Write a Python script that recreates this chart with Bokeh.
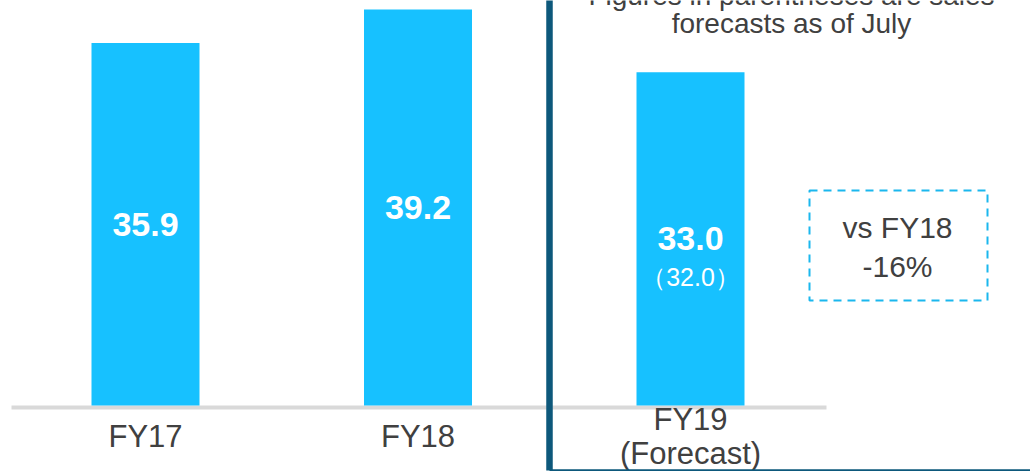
from bokeh.plotting import figure
from bokeh.models import Range1d, ColumnDataSource
from bokeh.core.properties import value
from bokeh.embed import file_html
from bokeh.resources import INLINE

# ---- data ----
categories = ["FY17", "FY18", "FY19\n(Forecast)"]
sales = [35.9, 39.2, 33.0]
value_labels = ["35.9", "39.2", "33.0"]
forecast_note = ["", "", "（32.0）"]
comparison = ["vs FY18", "-16%"]
note_lines = ["Figures in parentheses are sales", "forecasts as of July"]

# ---- layout ----
W, H = 1030, 471
OX, OY = 0, 0               # picture offset of the figure
PXU_X = 272.5               # px per category step
PXU_Y = 10.1                # px per unit of sales
X0_PAGE = 145               # x of first category center
Y0_PAGE = 405               # y of zero line

x_start = -(X0_PAGE - OX) / PXU_X
x_end = x_start + W / PXU_X
y_start = -(OY + H - Y0_PAGE) / PXU_Y
y_end = (Y0_PAGE - OY) / PXU_Y


def dx(px):
    return x_start + (px - OX) / PXU_X


def dy(py):
    return (Y0_PAGE - py) / PXU_Y


FONT = value("Liberation Sans")
TXT = "#404040"
BAR = "#17C1FF"

p = figure(width=W, height=H, output_backend="svg", toolbar_location=None,
           x_range=Range1d(x_start, x_end), y_range=Range1d(y_start, y_end),
           x_axis_location=None, y_axis_location=None, min_border=0,
           outline_line_color=None, background_fill_color="white",
           border_fill_color="white")
p.grid.visible = False

idx = list(range(len(categories)))
src = ColumnDataSource(dict(
    x=idx, top=sales, lab=value_labels, note=forecast_note, cat=categories,
    ylab=[v / 2 for v in sales],
    ynote=[v / 2 - 3.8 for v in sales],
))

# baseline
p.segment(x0=dx(11), y0=dy(407), x1=dx(826), y1=dy(407),
          line_color="#D9D9D9", line_width=4)

p.vbar(x="x", top="top", bottom=0, width=108 / PXU_X, source=src,
       fill_color=BAR, line_color=None)

p.text(x="x", y="ylab", text="lab", source=src, text_font=FONT,
       text_font_size="34px", text_font_style="bold", text_color="white",
       text_align="center", text_baseline="middle")
p.text(x="x", y="ynote", text="note", source=src, text_font=FONT,
       text_font_size="25px", text_color="white",
       text_align="center", text_baseline="middle")

# category labels
p.text(x="x", y=dy(436), text="cat", source=src, text_font=FONT,
       text_font_size="31px", text_color=TXT, text_align="center",
       text_baseline="middle", text_line_height=0.98)

# divider lines
p.segment(x0=dx(549), y0=dy(-5), x1=dx(549), y1=dy(470),
          line_color="#0D587B", line_width=6.5)
p.segment(x0=dx(549), y0=dy(470), x1=dx(1040), y1=dy(470),
          line_color="#0D587B", line_width=2.5)

# note at top
p.text(x=[dx(791), dx(791)], y=[dy(-5), dy(23)], text=note_lines,
       text_font=FONT, text_font_size="28px", text_color=TXT,
       text_align="center", text_baseline="alphabetic")

# dashed comparison box
p.quad(left=dx(809), right=dx(987), top=dy(190), bottom=dy(300),
       fill_color=None, line_color="#1BB7EE", line_width=2,
       line_dash="8 6")
p.text(x=[dx(897), dx(897)], y=[dy(227), dy(266)], text=comparison,
       text_font=FONT, text_font_size="30px", text_color=TXT,
       text_align="center", text_baseline="middle")

open("out.html", "w").write(file_html(p, INLINE))
